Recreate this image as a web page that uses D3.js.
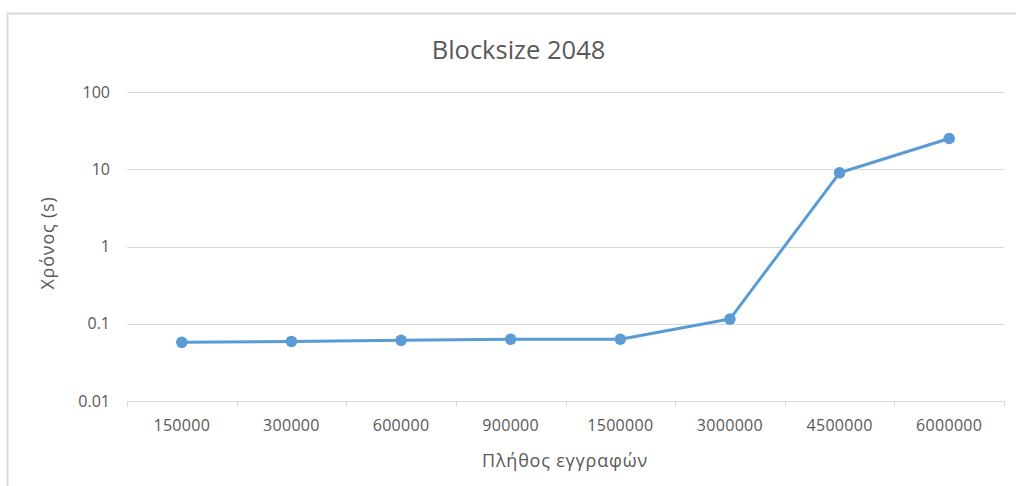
<!DOCTYPE html>
<html>
<head>
<meta charset="utf-8">
<script src="https://cdn.jsdelivr.net/npm/d3@7"></script>
<style>
  body { margin: 0; background: #fff; }
  text { font-family: "Open Sans", sans-serif; fill: #595959; }
</style>
</head>
<body>
<svg id="chart" width="1016" height="486"></svg>
<script>
// data
const records = ["150000", "300000", "600000", "900000", "1500000", "3000000", "4500000", "6000000"];
const seconds = [0.0575, 0.059, 0.061, 0.063, 0.063, 0.115, 9.0, 25];
const yTicks = [0.01, 0.1, 1, 10, 100];
const yTickLabels = ["0.01", "0.1", "1", "10", "100"];

const svg = d3.select("#chart");

// chart frame (only top/left visible in the crop)
svg.append("rect")
    .attr("x", 7.5).attr("y", 13.5)
    .attr("width", 1040).attr("height", 500)
    .attr("fill", "none")
    .attr("stroke", "#d9d9d9")
    .attr("stroke-width", 2);

const plotLeft = 127, plotRight = 1004, plotTop = 92, plotBottom = 401;

const x = d3.scaleBand().domain(records).range([plotLeft, plotRight]);
const y = d3.scaleLog().domain([0.01, 100]).range([plotBottom, plotTop]);

// gridlines
svg.append("g")
    .selectAll("line")
    .data(yTicks.slice(1))
    .enter().append("line")
    .attr("x1", plotLeft).attr("x2", plotRight)
    .attr("y1", d => Math.round(y(d)) + 0.5).attr("y2", d => Math.round(y(d)) + 0.5)
    .attr("stroke", "#d9d9d9")
    .attr("stroke-width", 1);

// y labels
svg.append("g")
    .selectAll("text")
    .data(yTicks)
    .enter().append("text")
    .attr("x", 110)
    .attr("y", d => y(d))
    .attr("dy", "0.35em")
    .attr("text-anchor", "end")
    .style("font-size", "16px")
    .text((d, i) => yTickLabels[i]);

// x axis line + ticks at band edges
svg.append("line")
    .attr("x1", plotLeft).attr("x2", plotRight)
    .attr("y1", plotBottom + 0.5).attr("y2", plotBottom + 0.5)
    .attr("stroke", "#d9d9d9")
    .attr("stroke-width", 1);

const edges = records.map(r => x(r)).concat([plotRight]);
svg.append("g")
    .selectAll("line")
    .data(edges)
    .enter().append("line")
    .attr("x1", d => Math.round(d) + 0.5).attr("x2", d => Math.round(d) + 0.5)
    .attr("y1", plotBottom).attr("y2", plotBottom + 6)
    .attr("stroke", "#d9d9d9");

svg.append("g")
    .selectAll("text")
    .data(records)
    .enter().append("text")
    .attr("x", d => x(d) + x.bandwidth() / 2)
    .attr("y", 431)
    .attr("text-anchor", "middle")
    .style("font-size", "16px")
    .style("letter-spacing", "0.3px")
    .text(d => d);

// series
const line = d3.line()
    .x((d, i) => x(records[i]) + x.bandwidth() / 2)
    .y(d => y(d));

svg.append("path")
    .datum(seconds)
    .attr("d", line)
    .attr("fill", "none")
    .attr("stroke", "#5b9bd5")
    .attr("stroke-width", 3)
    .attr("stroke-linejoin", "round");

svg.append("g")
    .selectAll("circle")
    .data(seconds)
    .enter().append("circle")
    .attr("cx", (d, i) => x(records[i]) + x.bandwidth() / 2)
    .attr("cy", d => y(d))
    .attr("r", 5.8)
    .attr("fill", "#5b9bd5");

// titles
svg.append("text")
    .attr("x", 518.5).attr("y", 59)
    .attr("text-anchor", "middle")
    .style("font-size", "25.5px")
    .text("Blocksize 2048");

svg.append("text")
    .attr("x", 565).attr("y", 467)
    .attr("text-anchor", "middle")
    .style("font-size", "18px")
    .style("letter-spacing", "0.8px")
    .text("Πλήθος εγγραφών");

svg.append("text")
    .attr("transform", "translate(54,243) rotate(-90)")
    .attr("text-anchor", "middle")
    .style("font-size", "18px")
    .style("letter-spacing", "0.8px")
    .text("Χρόνος (s)");
</script>
</body>
</html>
